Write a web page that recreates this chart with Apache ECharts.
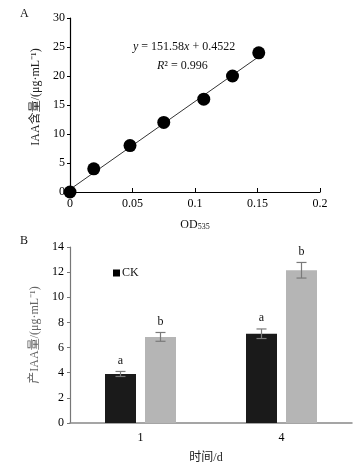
<!DOCTYPE html>
<html>
<head>
<meta charset="utf-8">
<script src="https://cdn.jsdelivr.net/npm/echarts@6/dist/echarts.min.js"></script>
<style>
  html, body { margin: 0; padding: 0; background: #fff; }
  #chart { width: 357px; height: 465px; }
</style>
</head>
<body>
<div id="chart"></div>
<script>
// panel A: standard curve
const odValues = [0, 0.019, 0.048, 0.075, 0.107, 0.13, 0.151];
const iaaValues = [0, 4, 8, 12, 16, 20, 24];
const trendX = [0, 0.151];
const trendY = [0.45, 23.34];

// panel B: IAA production
const days = ['1', '4'];
const ckValues = [3.9, 7.1];
const ckErr = [0.2, 0.38];
const trtValues = [6.85, 12.15];
const trtErr = [0.35, 0.62];
const ckLetters = ['a', 'a'];
const trtLetters = ['b', 'b'];

const FONT = '"Liberation Serif", "Noto Sans CJK SC", serif';
const chart = echarts.init(document.getElementById('chart'), null, { renderer: 'canvas' });

function errorSeries(name, values, errs, letters, offset) {
  return {
    name: name + '-err',
    type: 'custom',
    xAxisIndex: 1,
    yAxisIndex: 1,
    z: 5,
    data: days.map((d, i) => [i, values[i], errs[i], letters[i]]),
    renderItem: function (params, api) {
      const i = api.value(0);
      const lo = api.coord([i, api.value(1) - api.value(2)]);
      const hi = api.coord([i, api.value(1) + api.value(2)]);
      const x = lo[0] + offset;
      const cap = 5;
      const st = { stroke: '#7a7a7a', lineWidth: 1.2 };
      return {
        type: 'group',
        children: [
          { type: 'line', shape: { x1: x, y1: lo[1], x2: x, y2: hi[1] }, style: st },
          { type: 'line', shape: { x1: x - cap, y1: lo[1], x2: x + cap, y2: lo[1] }, style: st },
          { type: 'line', shape: { x1: x - cap, y1: hi[1], x2: x + cap, y2: hi[1] }, style: st },
          {
            type: 'text',
            style: {
              text: letters[i], x: x, y: hi[1] - 11,
              align: 'center', verticalAlign: 'middle',
              font: '12px ' + FONT, fill: '#111'
            }
          }
        ]
      };
    }
  };
}

chart.setOption({
  animation: false,
  textStyle: { fontFamily: FONT },
  grid: [
    { left: 70, top: 18, width: 250, height: 174 },
    { left: 70, top: 247, width: 282, height: 179 }
  ],
  legend: {
    data: ['CK'],
    left: 108,
    top: 262,
    itemWidth: 7,
    itemHeight: 7,
    itemGap: 2,
    icon: 'rect',
    itemStyle: { color: '#000' },
    textStyle: { fontFamily: FONT, fontSize: 12, color: '#111', padding: [0, 0, 0, -3] }
  },
  xAxis: [
    {
      gridIndex: 0,
      type: 'value',
      min: 0, max: 0.2, interval: 0.05,
      name: '{n|OD}{s|535}',
      nameLocation: 'middle',
      nameGap: 26,
      nameTextStyle: {
        rich: {
          n: { fontFamily: FONT, fontSize: 12, color: '#111' },
          s: { fontFamily: FONT, fontSize: 8, color: '#111', verticalAlign: 'bottom', padding: [5, 0, 0, 0] }
        }
      },
      axisLine: { lineStyle: { color: '#000', width: 1.2 } },
      axisTick: { show: true, inside: true, length: 4, lineStyle: { color: '#000' } },
      axisLabel: { fontFamily: FONT, fontSize: 12, color: '#000', margin: 6 },
      splitLine: { show: false }
    },
    {
      gridIndex: 1,
      type: 'category',
      data: days,
      name: '时间/d',
      nameLocation: 'middle',
      nameGap: 29,
      nameTextStyle: { fontFamily: FONT, fontSize: 12, color: '#222', padding: [0, 0, 0, -10] },
      axisLine: { lineStyle: { color: '#888', width: 1.5 } },
      axisTick: { show: false },
      axisLabel: { fontFamily: FONT, fontSize: 12, color: '#000', margin: 9 }
    }
  ],
  yAxis: [
    {
      gridIndex: 0,
      type: 'value',
      min: 0, max: 30, interval: 5,
      name: 'IAA含量/(μg·mL⁻¹)',
      nameLocation: 'middle',
      nameGap: 28,
      nameTextStyle: { fontFamily: FONT, fontSize: 12, color: '#222', padding: [0, 0, 0, 16] },
      axisLine: { show: true, lineStyle: { color: '#000', width: 1.2 } },
      axisTick: { show: true, length: 3, lineStyle: { color: '#000' } },
      axisLabel: { fontFamily: FONT, fontSize: 12, color: '#000', margin: 5 },
      splitLine: { show: false }
    },
    {
      gridIndex: 1,
      type: 'value',
      min: 0, max: 14, interval: 2,
      name: '产IAA量/(μg·mL⁻¹)',
      nameLocation: 'middle',
      nameGap: 29,
      nameTextStyle: { fontFamily: FONT, fontSize: 12, color: '#666' },
      axisLine: { show: true, lineStyle: { color: '#777', width: 1.2 } },
      axisTick: { show: true, length: 3, lineStyle: { color: '#777' } },
      axisLabel: { fontFamily: FONT, fontSize: 12, color: '#000', margin: 6 },
      splitLine: { show: false }
    }
  ],
  graphic: [
    { type: 'text', left: 20, top: 8, style: { text: 'A', font: '12px ' + FONT, fill: '#111' } },
    { type: 'text', left: 20, top: 235, style: { text: 'B', font: '12px ' + FONT, fill: '#111' } },
    {
      type: 'text', left: 133, top: 41,
      style: {
        text: '{i|y} = 151.58{i|x} + 0.4522',
        font: '12px ' + FONT, fill: '#111',
        rich: { i: { fontStyle: 'italic', fontFamily: FONT, fontSize: 12 } }
      }
    },
    {
      type: 'text', left: 157, top: 60,
      style: {
        text: '{i|R}² = 0.996',
        font: '12px ' + FONT, fill: '#111',
        rich: { i: { fontStyle: 'italic', fontFamily: FONT, fontSize: 12 } }
      }
    }
  ],
  series: [
    {
      name: 'trend',
      type: 'line',
      xAxisIndex: 0, yAxisIndex: 0,
      data: trendX.map((x, i) => [x, trendY[i]]),
      symbol: 'none',
      lineStyle: { color: '#333', width: 1 },
      z: 2
    },
    {
      name: 'points',
      type: 'scatter',
      xAxisIndex: 0, yAxisIndex: 0,
      data: odValues.map((x, i) => [x, iaaValues[i]]),
      symbolSize: 13,
      itemStyle: { color: '#000', opacity: 1 },
      z: 3
    },
    {
      name: 'CK',
      type: 'bar',
      xAxisIndex: 1, yAxisIndex: 1,
      data: ckValues,
      barWidth: 31,
      barGap: '29%',
      itemStyle: { color: '#1a1a1a' }
    },
    {
      name: 'Treatment',
      type: 'bar',
      xAxisIndex: 1, yAxisIndex: 1,
      data: trtValues,
      barWidth: 31,
      barGap: '29%',
      itemStyle: { color: '#b5b5b5' }
    },
    errorSeries('CK', ckValues, ckErr, ckLetters, -20),
    errorSeries('Treatment', trtValues, trtErr, trtLetters, 20)
  ]
});
</script>
</body>
</html>
